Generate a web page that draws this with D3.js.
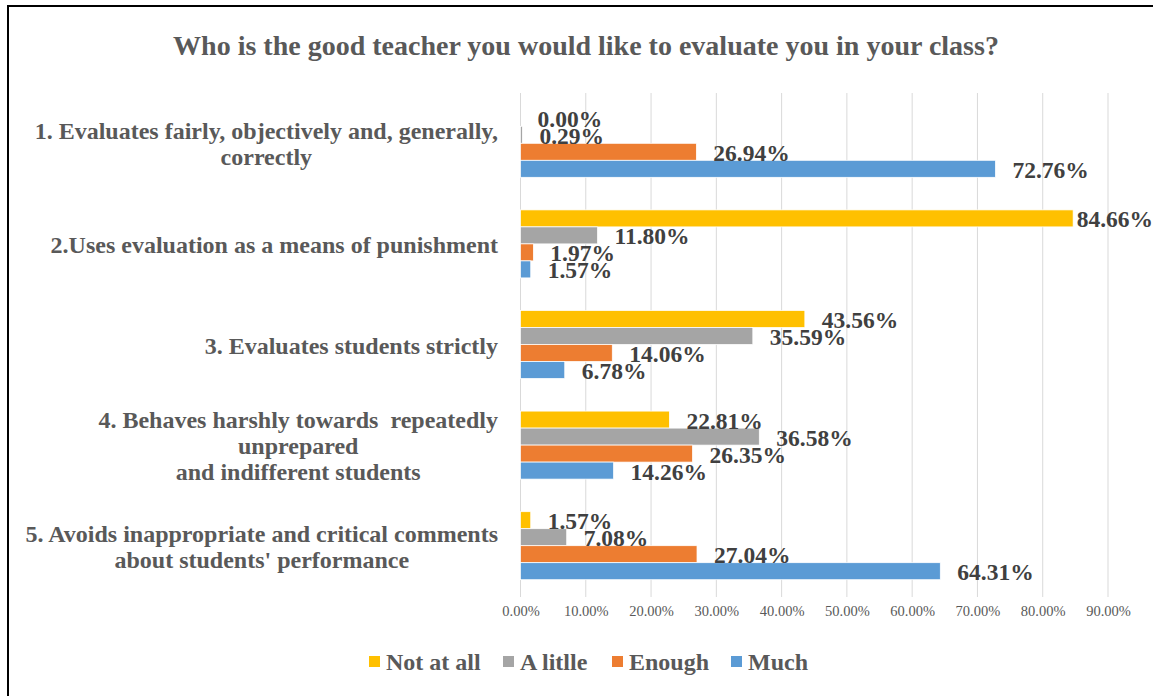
<!DOCTYPE html>
<html><head><meta charset="utf-8">
<script src="https://cdn.jsdelivr.net/npm/d3@7"></script>
<style>html,body{margin:0;padding:0;background:#fff;}svg{display:block;}</style>
</head><body>
<svg id="chart" width="1153" height="696"></svg>
<script>
const categories = [
  ["1. Evaluates fairly, objectively and, generally,", "correctly"],
  ["2.Uses evaluation as a means of punishment"],
  ["3. Evaluates students strictly"],
  ["4. Behaves harshly towards  repeatedly", "unprepared", "and indifferent students"],
  ["5. Avoids inappropriate and critical comments", "about students' performance"]
];
const seriesNames = ["Not at all", "A litlle", "Enough", "Much"];
const seriesColors = ["#FFC000", "#A5A5A5", "#ED7D31", "#5B9BD5"];
const notAtAll = [0.0000, 0.8466, 0.4356, 0.2281, 0.0157];
const aLittle  = [0.0029, 0.1180, 0.3559, 0.3658, 0.0708];
const enough   = [0.2694, 0.0197, 0.1406, 0.2635, 0.2704];
const much     = [0.7276, 0.0157, 0.0678, 0.1426, 0.6431];
const xTicks = [0, 0.1, 0.2, 0.3, 0.4, 0.5, 0.6, 0.7, 0.8, 0.9];
const titleText = "Who is the good teacher you would like to evaluate you in your class?";

const seriesValues = [notAtAll, aLittle, enough, much];
const svg = d3.select("#chart");
const serif = "'Liberation Serif','Times New Roman',serif";

svg.append("rect").attr("x", 8).attr("y", 6).attr("width", 1170).attr("height", 720)
  .attr("fill", "#fff").attr("stroke", "#000").attr("stroke-width", 2);

svg.append("text").attr("x", 586).attr("y", 55).attr("text-anchor", "middle")
  .attr("font-family", serif).attr("font-weight", "bold").attr("font-size", 28)
  .attr("fill", "#595959").text(titleText);

const x = d3.scaleLinear().domain([0, 0.9]).range([520.5, 1108]);
const catIdx = d3.range(categories.length);
const y = d3.scaleBand().domain(catIdx).range([93, 596]).paddingInner(0.324).paddingOuter(0.162);
const ys = d3.scaleBand().domain(d3.range(seriesNames.length)).range([0, y.bandwidth()]);

// gridlines
svg.append("g").selectAll("line").data(xTicks).join("line")
  .attr("x1", d => x(d)).attr("x2", d => x(d)).attr("y1", 93).attr("y2", 597)
  .attr("stroke", "#d9d9d9").attr("stroke-width", 1);

// axis tick labels
const axis = d3.axisBottom(x).tickValues(xTicks).tickFormat(d => (d * 100).toFixed(2) + "%").tickSize(0).tickPadding(0);
const ga = svg.append("g").attr("transform", "translate(0,606)").call(axis);
ga.select(".domain").remove();
ga.selectAll("text").attr("font-family", serif).attr("font-size", 14.5).attr("fill", "#595959")
  .attr("dy", "0.71em");

// bars
const groups = svg.append("g").selectAll("g").data(catIdx).join("g")
  .attr("transform", c => `translate(0,${y(c)})`);
seriesNames.forEach((s, si) => {
  groups.append("rect")
    .attr("x", x(0)).attr("y", ys(si))
    .attr("width", c => Math.max(0, x(seriesValues[si][c]) - x(0)))
    .attr("height", ys.bandwidth())
    .attr("fill", seriesColors[si]).attr("stroke", "#fff").attr("stroke-width", 0.75);
});
seriesNames.forEach((s, si) => {
  groups.append("text")
    .attr("y", ys(si) + ys.bandwidth() / 2 + 1)
    .attr("dominant-baseline", "central")
    .attr("font-family", serif).attr("font-weight", "bold").attr("font-size", 23.5)
    .attr("fill", "#404040")
    .text(c => (seriesValues[si][c] * 100).toFixed(2) + "%")
    .attr("x", function(c) {
      const w = this.getComputedTextLength();
      return Math.min(x(seriesValues[si][c]) + 17, 1153 - w);
    });
});

// category labels
const lineH = 26;
const catG = svg.append("g");
catIdx.forEach(c => {
  const lines = categories[c];
  const cy = y(c) + y.bandwidth() / 2;
  const g = catG.append("g");
  const t = g.append("text").attr("font-family", serif).attr("font-weight", "bold")
    .attr("font-size", 24).attr("fill", "#595959").attr("text-anchor", "middle")
    .attr("xml:space", "preserve");
  const tspans = lines.map((l, i) => t.append("tspan").attr("x", 0)
    .attr("y", cy + (i - (lines.length - 1) / 2) * lineH).attr("dominant-baseline", "central").text(l));
  const w = d3.max(tspans, ts => ts.node().getComputedTextLength());
  g.attr("transform", `translate(${498 - w / 2},1)`);
});

// legend
const legendX = [369, 503, 612, 731];
const lg = svg.append("g");
seriesNames.forEach((s, i) => {
  lg.append("rect").attr("x", legendX[i]).attr("y", 656).attr("width", 11).attr("height", 11)
    .attr("fill", seriesColors[i]);
  lg.append("text").attr("x", legendX[i] + 17).attr("y", 662).attr("dominant-baseline", "central")
    .attr("font-family", serif).attr("font-weight", "bold").attr("font-size", 24)
    .attr("fill", "#595959").text(s);
});
</script>
</body></html>
